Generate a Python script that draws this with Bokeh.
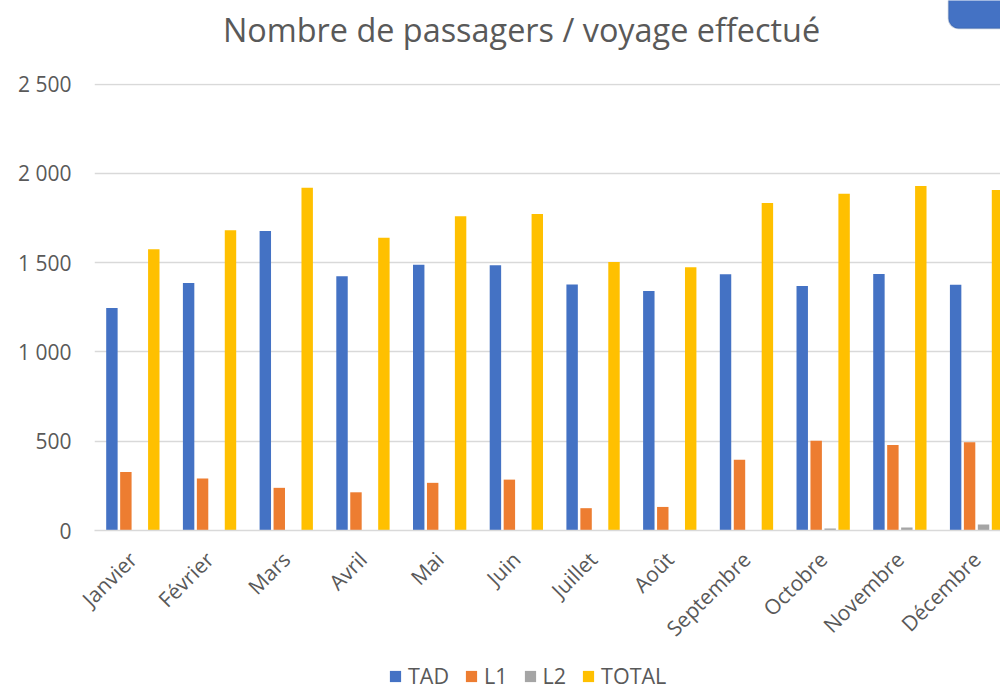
import numpy as np
from bokeh.plotting import figure
from bokeh.layouts import column
from bokeh.models import (ColumnDataSource, FixedTicker, Legend, LegendItem,
                          Label, Range1d, BoxAnnotation)
from bokeh.transform import dodge
from bokeh.embed import file_html
from bokeh.resources import INLINE

# ---- data ----
months = ["Janvier", "Février", "Mars", "Avril", "Mai", "Juin", "Juillet",
          "Août", "Septembre", "Octobre", "Novembre", "Décembre"]
tad = [1247, 1387, 1678, 1424, 1489, 1486, 1378, 1341, 1435, 1370, 1437, 1376]
l1 = [328, 291, 239, 214, 267, 285, 125, 132, 397, 503, 479, 494]
l2 = [0, 0, 0, 0, 0, 0, 0, 0, 0, 11, 17, 34]
total = [1575, 1682, 1920, 1640, 1760, 1773, 1504, 1475, 1834, 1887, 1930, 1907]
series_names = ["TAD", "L1", "L2", "TOTAL"]
y_ticks = [0, 500, 1000, 1500, 2000, 2500]
y_tick_labels = ["0", "500", "1 000", "1 500", "2 000", "2 500"]
title_text = "Nombre de passagers / voyage effectué"

colors = ["#4472C4", "#ED7D31", "#A5A5A5", "#FFC000"]
FONT = "Open Sans"
TXT = "#595959"

x_idx = list(range(len(months)))
src = ColumnDataSource(dict(x=x_idx, TAD=tad, L1=l1, L2=l2, TOTAL=total))


def strip(height):
    f = figure(width=1000, height=height, output_backend="svg",
               toolbar_location=None, x_axis_type=None, y_axis_type=None,
               x_range=Range1d(94, 1000), y_range=Range1d(height, 0),
               min_border_left=94, min_border_right=0, min_border_top=0,
               min_border_bottom=0)
    f.outline_line_color = None
    f.grid.grid_line_color = None
    f.background_fill_color = "white"
    f.border_fill_color = "white"
    return f


# ---- title strip (title + rounded blue shape) ----
tf = strip(69)
tf.add_layout(Label(x=521, y=28, text=title_text, text_align="center",
                    text_baseline="middle", text_font=FONT,
                    text_font_size="32.4px", text_color=TXT))
tf.add_layout(BoxAnnotation(left=948, right=1100, top=-12, bottom=28,
                            fill_color="#4472C4", fill_alpha=1,
                            line_color="#2F528F", line_width=1.5,
                            border_radius=10))

# ---- main chart ----
p = figure(width=1000, height=585, output_backend="svg", toolbar_location=None,
           x_range=Range1d(-0.5, 11.312), y_range=Range1d(0, 2504),
           min_border_left=94, min_border_right=0, min_border_top=14,
           min_border_bottom=124)
p.outline_line_color = None
p.background_fill_color = "white"
p.border_fill_color = "white"

offsets = [-0.273, -0.091, 0.091, 0.273]
for name, off, col in zip(series_names, offsets, colors):
    p.vbar(x=dodge("x", off, range=p.x_range), top=name, width=0.149,
           source=src, fill_color=col, line_color=None)

# y axis
p.yaxis.ticker = FixedTicker(ticks=y_ticks)
p.yaxis.major_label_overrides = dict(zip(y_ticks, y_tick_labels))
p.yaxis.axis_line_color = None
p.yaxis.major_tick_line_color = None
p.yaxis.minor_tick_line_color = None
p.yaxis.major_tick_out = 0
p.yaxis.major_label_standoff = 23
p.yaxis.major_label_text_font = FONT
p.yaxis.major_label_text_font_size = "21px"
p.yaxis.major_label_text_color = TXT

p.ygrid.ticker = FixedTicker(ticks=y_ticks)
p.ygrid.grid_line_color = "#d9d9d9"
p.ygrid.grid_line_width = 1.5
p.xgrid.grid_line_color = None

# x axis
p.xaxis.ticker = FixedTicker(ticks=x_idx)
p.xaxis.major_label_overrides = dict(zip(x_idx, months))
p.xaxis.major_label_orientation = np.pi / 4
p.xaxis.axis_line_color = "#d9d9d9"
p.xaxis.axis_line_width = 1.5
p.xaxis.major_tick_line_color = None
p.xaxis.minor_tick_line_color = None
p.xaxis.major_tick_out = 0
p.xaxis.major_label_standoff = 25
p.xaxis.major_label_text_font = FONT
p.xaxis.major_label_text_font_size = "21px"
p.xaxis.major_label_text_color = TXT

# ---- legend strip ----
lf = strip(36)
items = []
for name, col in zip(series_names, colors):
    r = lf.vbar(x=[0], top=[-100], width=1, fill_color=col, line_color=None)
    items.append(LegendItem(label=name, renderers=[r]))
legend = Legend(items=items, orientation="horizontal", location=(294, 0),
                glyph_width=14, glyph_height=14, label_standoff=6, spacing=15,
                label_width=0, padding=0, margin=0, border_line_color=None,
                background_fill_alpha=0,
                label_text_font=FONT, label_text_font_size="21.5px",
                label_text_color=TXT)
lf.add_layout(legend, "center")

open("out.html", "w").write(file_html(column(tf, p, lf, spacing=0), INLINE))
